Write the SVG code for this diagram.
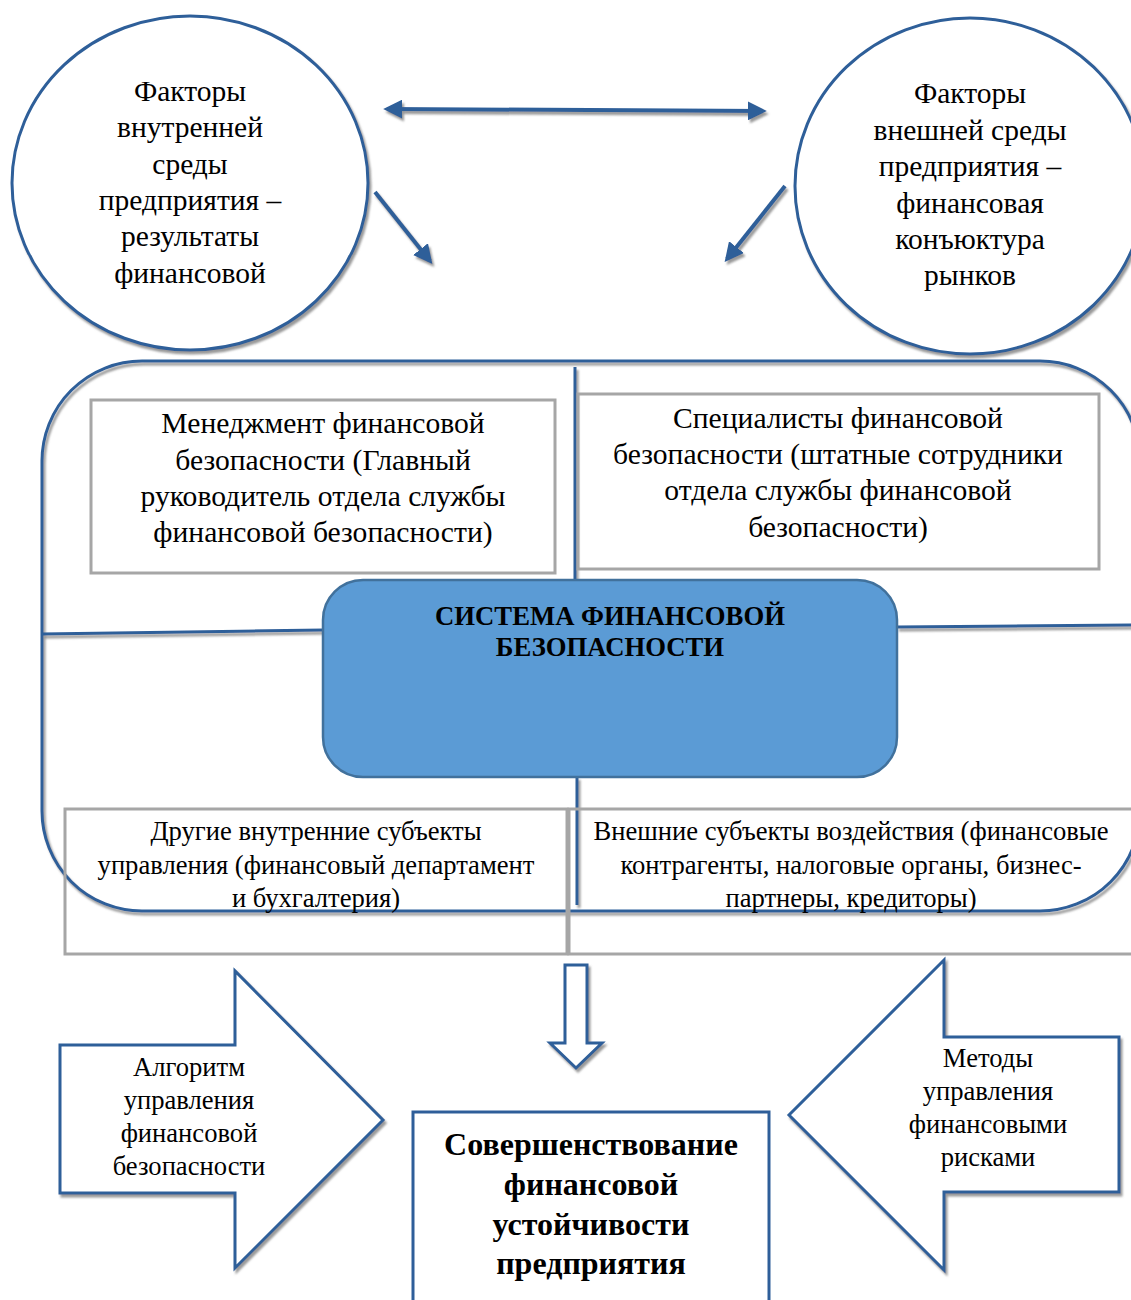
<svg xmlns="http://www.w3.org/2000/svg" width="1131" height="1300" viewBox="0 0 1131 1300">
<defs>
<style>
.t{font-family:"Liberation Serif","Times New Roman",serif;fill:#000;text-anchor:middle}
.c{font-size:29.5px}
.m{font-size:29.6px}
.s{font-size:26.6px}
.a{font-size:26.6px}
.b{font-weight:bold}
.blue{fill:#fff;stroke:#2E5E99;stroke-width:3}
.gray{fill:none;stroke:#A6A6A6;stroke-width:3}
.conn{stroke:#2E5E99;stroke-width:4;fill:none}
</style>
<filter id="sh" x="-10%" y="-10%" width="120%" height="120%">
<feDropShadow dx="2" dy="3" stdDeviation="0.8" flood-color="#808080" flood-opacity="0.8"/>
</filter>
<marker id="ah" viewBox="0 0 10 10" refX="8" refY="5" markerWidth="19" markerHeight="19" markerUnits="userSpaceOnUse" orient="auto-start-reverse">
<path d="M0,0 L10,5 L0,10 z" fill="#2E5E99"/>
</marker>
</defs>

<g id="big-frame">
<rect x="42" y="361" width="1098" height="550" rx="100" ry="100" class="blue" style="fill:none" filter="url(#sh)"/>
</g>

<g id="connectors" filter="url(#sh)">
<line x1="387" y1="109" x2="763" y2="111" class="conn" marker-start="url(#ah)" marker-end="url(#ah)"/>
<line x1="375" y1="192" x2="430" y2="261" class="conn" marker-end="url(#ah)"/>
<line x1="785" y1="186" x2="727" y2="259" class="conn" marker-end="url(#ah)"/>
<line x1="575" y1="367" x2="575" y2="580" stroke="#2E5E99" stroke-width="3"/>
<line x1="577" y1="777" x2="577" y2="905" stroke="#2E5E99" stroke-width="3"/>
<line x1="42" y1="634" x2="324" y2="630" stroke="#2E5E99" stroke-width="3"/>
<line x1="897" y1="627" x2="1131" y2="625" stroke="#2E5E99" stroke-width="3"/>
<path d="M565,965 H587 V1043 H602 L576,1068 L550,1043 H565 Z" class="blue"/>
</g>

<g id="circle-internal">
<ellipse cx="190" cy="183" rx="178" ry="167" class="blue" filter="url(#sh)"/>
<text class="t c" x="190" y="101">Факторы</text>
<text class="t c" x="190" y="137">внутренней</text>
<text class="t c" x="190" y="174">среды</text>
<text class="t c" x="190" y="210">предприятия –</text>
<text class="t c" x="190" y="246">результаты</text>
<text class="t c" x="190" y="283">финансовой</text>
</g>

<g id="circle-external">
<ellipse cx="970" cy="186" rx="175" ry="168" class="blue" filter="url(#sh)"/>
<text class="t c" x="970" y="103">Факторы</text>
<text class="t c" x="970" y="140">внешней среды</text>
<text class="t c" x="970" y="176">предприятия –</text>
<text class="t c" x="970" y="213">финансовая</text>
<text class="t c" x="970" y="249">конъюктура</text>
<text class="t c" x="970" y="285">рынков</text>
</g>

<g id="management">
<rect x="91" y="400" width="464" height="173" class="gray"/>
<text class="t m" x="323" y="433">Менеджмент финансовой</text>
<text class="t m" x="323" y="470">безопасности (Главный</text>
<text class="t m" x="323" y="506">руководитель отдела службы</text>
<text class="t m" x="323" y="542">финансовой безопасности)</text>
</g>

<g id="specialists">
<rect x="578" y="394" width="521" height="175" class="gray"/>
<text class="t m" x="838" y="428">Специалисты финансовой</text>
<text class="t m" x="838" y="464">безопасности (штатные сотрудники</text>
<text class="t m" x="838" y="500">отдела службы финансовой</text>
<text class="t m" x="838" y="537">безопасности)</text>
</g>

<g id="system">
<rect x="323" y="580" width="574" height="197" rx="40" ry="40" fill="#5B9BD5" stroke="#41719C" stroke-width="2.5"/>
<text class="t b" x="610" y="625" style="font-size:26.7px">СИСТЕМА ФИНАНСОВОЙ</text>
<text class="t b" x="610" y="656" style="font-size:26.7px">БЕЗОПАСНОСТИ</text>
</g>

<g id="other-internal">
<rect x="65" y="809" width="502" height="145" class="gray"/>
<text class="t s" x="316" y="840">Другие внутренние субъекты</text>
<text class="t s" x="316" y="874">управления (финансовый департамент</text>
<text class="t s" x="316" y="907">и бухгалтерия)</text>
</g>

<g id="external-subjects">
<rect x="569" y="809" width="570" height="145" class="gray"/>
<text class="t s" x="851" y="840">Внешние субъекты воздействия (финансовые</text>
<text class="t s" x="851" y="874">контрагенты, налоговые органы, бизнес-</text>
<text class="t s" x="851" y="907">партнеры, кредиторы)</text>
</g>

<g id="algorithm">
<polygon points="60,1045 235,1045 235,971 383,1120 235,1268 235,1193 60,1193" class="blue" filter="url(#sh)"/>
<text class="t a" x="189" y="1076">Алгоритм</text>
<text class="t a" x="189" y="1109">управления</text>
<text class="t a" x="189" y="1142">финансовой</text>
<text class="t a" x="189" y="1175">безопасности</text>
</g>

<g id="methods">
<polygon points="1119,1037 944,1037 944,960 789,1115 944,1270 944,1192 1119,1192" class="blue" filter="url(#sh)"/>
<text class="t a" x="988" y="1067">Методы</text>
<text class="t a" x="988" y="1100">управления</text>
<text class="t a" x="988" y="1133">финансовыми</text>
<text class="t a" x="988" y="1166">рисками</text>
</g>

<g id="result">
<rect x="413" y="1112" width="356" height="200" class="blue"/>
<text class="t b" x="591" y="1155" style="font-size:32px">Совершенствование</text>
<text class="t b" x="591" y="1195" style="font-size:32px">финансовой</text>
<text class="t b" x="591" y="1235" style="font-size:32px">устойчивости</text>
<text class="t b" x="591" y="1274" style="font-size:32px">предприятия</text>
</g>
</svg>
